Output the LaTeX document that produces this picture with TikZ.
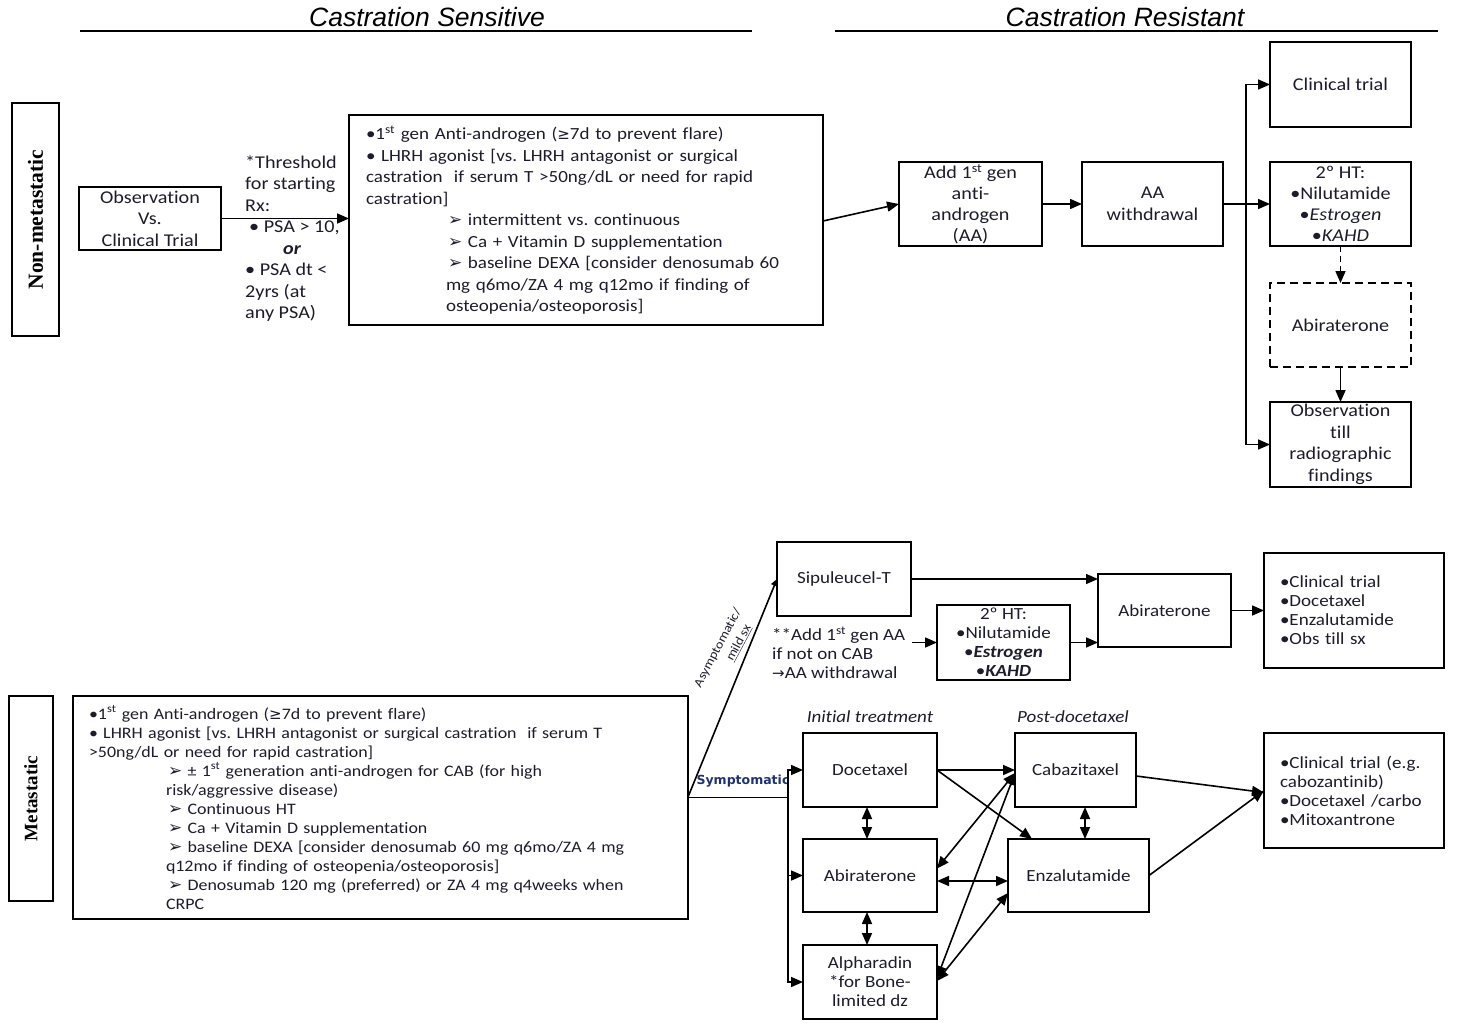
\documentclass[tikz,border=0pt]{standalone}
\usepackage{fontspec}
\setmainfont{Carlito}[FakeStretch=1.12,Ligatures=NoCommon]
\newfontfamily\dejavu{DejaVu Sans}
\newfontfamily\libsans{Liberation Sans}
\newfontfamily\libserif{Liberation Serif}
\usetikzlibrary{arrows.meta,calc}
\definecolor{txt}{RGB}{28,28,44}
\definecolor{symblue}{RGB}{30,50,110}
\newcommand\fsA{\fontsize{17}{21.5}\selectfont}
\newcommand\fsS{\fontsize{18}{21.5}\selectfont}
\newcommand\fsB{\fontsize{16}{19}\selectfont}
\newcommand\fsC{\fontsize{17}{19}\selectfont}
\newcommand\arrg{{\dejavu\fontsize{17}{15}\selectfont ➢}}
\newcommand\gesym{{\dejavu\fontsize{15}{15}\selectfont ≥}}
\frenchspacing
\tikzset{
  box/.style={draw, line width=2pt, outer sep=0pt, inner sep=1pt, align=center, text=txt, font=\fsS},
  sbox/.style={box, font=\fsC},
  tbox/.style={draw, line width=1.2pt, outer sep=0pt, align=left, text=txt},
  lab/.style={draw, line width=1.3pt, outer sep=0pt, inner sep=0pt, rotate=90, font=\libserif\bfseries},
  arr/.style={line width=1.6pt, -{Triangle[length=12pt,width=10pt]}},
  darr/.style={line width=1.6pt, {Triangle[length=12pt,width=10pt]}-{Triangle[length=12pt,width=10pt]}},
  hdr/.style={font=\libsans\itshape\fontsize{26.5}{30}\selectfont, text=black, inner sep=0pt},
  plain/.style={inner sep=0pt, align=left, text=txt},
}
\begin{document}
\begin{tikzpicture}[x=1pt,y=-1pt]
\useasboundingbox (0,0) rectangle (1457,1025);

% headers
\node[hdr] (hcs) at (427,17) {Castration Sensitive};
\node[hdr] (hcr) at (1125,17) {Castration Resistant};
\draw[line width=1.3pt] (80,31) -- (752,31);
\draw[line width=1.3pt] (835,31) -- (1438,31);

% side labels
\node[lab, minimum width=233, minimum height=47, font=\libserif\bfseries\fontsize{21.5}{24}\selectfont] (nmlab) at (35.5,219.5) {Non-metastatic};
\node[lab, minimum width=205, minimum height=44, font=\libserif\bfseries\fontsize{19}{22}\selectfont] (mlab) at (31,798.5) {Metastatic};

% ---------- non-metastatic row ----------
\node[box, minimum width=142, minimum height=63] (obs) at (150,218.5) {Observation\\Vs.\\Clinical Trial};

\node[plain, font=\fsS, anchor=west] (thr) at (245,238.5) {*Threshold\\for starting\\Rx:\\\hspace*{4pt}• PSA > 10,\\\hspace*{38pt}\textbf{\textit{or}}\\• PSA dt <\\2yrs (at\\any PSA)};

\node[tbox, font=\fsA, minimum height=210, text width=440, inner xsep=17pt, inner ysep=0pt] (cs1) at (586,220) {%
•1\textsuperscript{st} gen Anti-androgen (\gesym7d to prevent flare)\\
• LHRH agonist [vs. LHRH antagonist or surgical\\
castration\ \ if serum T >50ng/dL or need for rapid\\
castration]\\
\hspace*{82pt}\arrg\ intermittent vs. continuous\\
\hspace*{82pt}\arrg\ Ca + Vitamin D supplementation\\
\hspace*{82pt}\arrg\ baseline DEXA [consider denosumab 60\\
\hspace*{80pt}mg q6mo/ZA 4 mg q12mo if finding of\\
\hspace*{80pt}osteopenia/osteoporosis]};

\node[box, minimum width=143, minimum height=84, font=\fontsize{18}{21}\selectfont] (addaa) at (970.5,204) {Add 1\textsuperscript{st} gen\\anti-\\androgen\\(AA)};
\node[box, minimum width=141, minimum height=84] (aaw) at (1152.5,204) {AA\\withdrawal};

\node[box, minimum width=141, minimum height=85] (ct) at (1340.5,84.5) {Clinical trial};
\node[box, minimum width=141, minimum height=84, font=\fontsize{18}{21}\selectfont] (ht2) at (1340.5,204) {2º HT:\\•Nilutamide\\•\textit{Estrogen}\\•\textit{KAHD}};
\node[box, dashed, dash pattern=on 8pt off 5pt, minimum width=141, minimum height=84] (abi1) at (1340.5,325) {Abiraterone};
\node[box, minimum width=141, minimum height=85] (obst) at (1340.5,444.5) {Observation\\till\\radiographic\\findings};

\draw[arr] (obs.east) -- (obs.east -| cs1.west);
\draw[arr] ([yshift=-1pt]cs1.east) -- (addaa.west);
\draw[arr] (addaa.east) -- (aaw.west);
\draw[arr] (aaw.east) -- (ht2.west);
\coordinate (br) at (1246,204);
\draw[arr] (br) |- (ct.west);
\draw[arr] (br) |- (obst.west);
\draw[arr, dashed, dash pattern=on 6pt off 4pt] (ht2.south) -- (abi1.north);
\draw[arr] (abi1.south) -- (obst.north);

% ---------- metastatic row ----------
\node[tbox, font=\fsB, minimum height=223, text width=583, inner xsep=16pt, inner ysep=0pt] (met) at (380.5,807.5) {%
•1\textsuperscript{st} gen Anti-androgen (\gesym7d to prevent flare)\\
• LHRH agonist [vs. LHRH antagonist or surgical castration\ \ if serum T\\
>50ng/dL or need for rapid castration]\\
\hspace*{79pt}\arrg\ ± 1\textsuperscript{st} generation anti-androgen for CAB (for high\\
\hspace*{77pt}risk/aggressive disease)\\
\hspace*{79pt}\arrg\ Continuous HT\\
\hspace*{79pt}\arrg\ Ca + Vitamin D supplementation\\
\hspace*{79pt}\arrg\ baseline DEXA [consider denosumab 60 mg q6mo/ZA 4 mg\\
\hspace*{77pt}q12mo if finding of osteopenia/osteoporosis]\\
\hspace*{79pt}\arrg\ Denosumab 120 mg (preferred) or ZA 4 mg q4weeks when\\
\hspace*{77pt}CRPC};

\node[sbox, minimum width=134, minimum height=74] (sip) at (844,579) {Sipuleucel-T};
\node[plain, font=\fsC, anchor=west] (addtxt) at (772,653) {**Add 1\textsuperscript{st} gen AA\\if not on CAB\\{\dejavu\fontsize{15}{15}\selectfont →}AA withdrawal};
\node[sbox, minimum width=133, minimum height=75] (ht2b) at (1003.5,642.5) {2º HT:\\•Nilutamide\\•\textbf{\textit{Estrogen}}\\•\textbf{\textit{KAHD}}};
\node[sbox, minimum width=133, minimum height=73] (abi2) at (1164.5,610.5) {Abiraterone};
\node[tbox, font=\fsC, minimum height=115, text width=148, inner xsep=16pt, inner ysep=0pt, line width=2pt] (lst1) at (1354,610.5) {•Clinical trial\\•Docetaxel\\•Enzalutamide\\•Obs till sx};

\coordinate (addend) at (912,642.5);
\draw[arr] (addend) -- (ht2b.west);
\draw[arr] (sip.east) -- (sip.east -| abi2.west);
\draw[arr] (ht2b.east) -- (ht2b.east -| abi2.west);
\draw[arr] (abi2.east) -- (lst1.west);

\coordinate (split) at (688,797);
\draw[line width=1.6pt, -{Triangle[length=7pt,width=7pt]}] (split) -- (sip.west);
\node[plain, rotate=62, font=\fontsize{12.5}{15}\selectfont] (asym1) at (718,648) {Asymptomatic/};
\node[plain, rotate=62, font=\fontsize{12.5}{15}\selectfont] (asym2) at (739,643) {\underline{mild sx}};
\node[inner sep=0pt, font=\dejavu\bfseries\fontsize{12.5}{14}\selectfont, text=symblue] (symp) at (743,781) {Symptomatic};

\node[plain, font=\itshape\fontsize{17}{18}\selectfont] (hinit) at (870,717) {Initial treatment};
\node[plain, font=\itshape\fontsize{17}{18}\selectfont] (hpost) at (1073,717) {Post-docetaxel};

\node[sbox, minimum width=134, minimum height=74] (doc) at (870,770) {Docetaxel};
\node[sbox, minimum width=121, minimum height=74] (cab) at (1075.5,770) {Cabazitaxel};
\node[sbox, minimum width=134, minimum height=73] (abi3) at (870,875.5) {Abiraterone};
\node[sbox, minimum width=141, minimum height=73] (enz) at (1078.5,875.5) {Enzalutamide};
\node[sbox, minimum width=134, minimum height=74] (alph) at (870,982) {Alpharadin\\*for Bone-\\limited dz};
\node[tbox, font=\fsC, minimum height=115, text width=148, inner xsep=16pt, inner ysep=0pt, line width=2pt] (lst2) at (1354,790.5) {•Clinical trial (e.g.\\cabozantinib)\\•Docetaxel /carbo\\•Mitoxantrone};

\coordinate (vb) at (788,797);
\draw[line width=1pt] (split) -- (vb);
\draw[arr] (vb) |- (doc.west);
\draw[arr] (vb) |- (alph.west);
\draw[arr] (vb |- abi3.west) -- (abi3.west);

\draw[darr] ([xshift=-3pt]doc.south) -- ([xshift=-3pt]abi3.north);
\draw[darr] ([xshift=-3pt]abi3.south) -- ([xshift=-3pt]alph.north);
\draw[darr] ([xshift=9.5pt]cab.south) -- ([xshift=9.5pt]cab.south |- enz.north);
\draw[arr] (doc.east) -- (doc.east -| cab.west);
\draw[arr] (doc.east) -- ([xshift=-46.5pt]enz.north);
\draw[darr] ([yshift=-5.5pt]abi3.east) -- ([yshift=-5.5pt]abi3.east -| enz.west);
\draw[darr] ([yshift=-3pt]cab.west) -- ([yshift=7pt]abi3.east);
\draw[darr] ([yshift=-3pt]cab.west) -- ([yshift=4pt]alph.east);
\draw[darr] ([yshift=-17.5pt]enz.west) -- ([yshift=1pt]alph.east);
\draw[arr] ([yshift=-6pt]cab.east) -- ([yshift=-2pt]lst2.west);
\draw[arr] (enz.east) -- (lst2.west);
\end{tikzpicture}
\end{document}
